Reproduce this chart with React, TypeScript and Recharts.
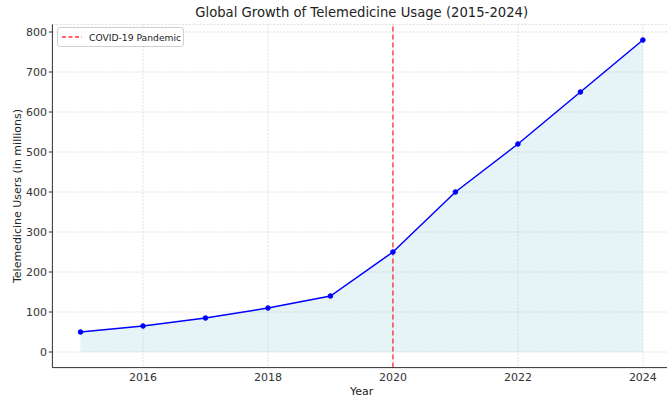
import React from 'react'
import { ComposedChart, Area, Line, XAxis, YAxis, CartesianGrid, ReferenceLine } from 'recharts'

// Telemedicine users (millions) per year
const years = [2015, 2016, 2017, 2018, 2019, 2020, 2021, 2022, 2023, 2024]
const users = [50, 65, 85, 110, 140, 250, 400, 520, 650, 780]
const xTicks = [2016, 2018, 2020, 2022, 2024]
const yTicks = [0, 100, 200, 300, 400, 500, 600, 700, 800]
const covidYear = 2020

const FONT = '"DejaVu Sans", sans-serif'

export default function App() {
    const data = React.useMemo(() => years.map((year, i) => ({ year, users: users[i] })), [])

    return (
        <div style={{ position: 'absolute', left: 0, top: 0, width: 667, height: 401, overflow: 'hidden', background: '#fff', fontFamily: FONT }}>
            <div style={{ position: 'absolute', left: 361.7, top: 5, transform: 'translateX(-50%)', whiteSpace: 'nowrap', fontSize: 13.2, color: '#222' }}>
                Global Growth of Telemedicine Usage (2015-2024)
            </div>
            <ComposedChart width={672} height={401} data={data} margin={{ top: 24.4, right: 1, left: 0, bottom: 0 }}>
                <CartesianGrid stroke="#d6d6d6" strokeWidth={0.8} strokeDasharray="2 1.5" vertical horizontal />
                <XAxis
                    dataKey="year"
                    type="number"
                    domain={[2014.55, 2024.45]}
                    ticks={xTicks}
                    height={33.4}
                    axisLine={{ stroke: '#333' }}
                    tickLine={false}
                    tickSize={3.5}
                    tickMargin={2}
                    tick={{ fill: '#333', fontSize: 11, fontFamily: FONT }}
                    label={{ value: 'Year', position: 'insideBottom', offset: 6, fill: '#222', fontSize: 11, fontFamily: FONT }}
                />
                <YAxis
                    type="number"
                    domain={[-39, 819]}
                    ticks={yTicks}
                    width={52.4}
                    axisLine={{ stroke: '#333' }}
                    tickLine={{ stroke: '#333' }}
                    tickSize={3.5}
                    tick={{ fill: '#333', fontSize: 11, fontFamily: FONT }}
                    label={{ value: 'Telemedicine Users (in millions)', angle: -90, position: 'insideLeft', offset: 17, fill: '#222', fontSize: 11, fontFamily: FONT, style: { textAnchor: 'middle' } }}
                />
                <Area dataKey="users" baseValue={0} fill="#add8e6" fillOpacity={0.3} stroke="none" isAnimationActive={false} />
                <Line dataKey="users" stroke="#0000ff" strokeWidth={1.5} dot={{ r: 2.3, fill: '#0000ff', stroke: '#0000ff', strokeWidth: 1 }} isAnimationActive={false} />
                <ReferenceLine x={covidYear} stroke="#ff0000" strokeOpacity={0.8} strokeWidth={1.3} strokeDasharray="5 3" />
            </ComposedChart>
            <div style={{ position: 'absolute', left: 57, top: 27, width: 127, height: 20, border: '1px solid #d0d0d0', borderRadius: 3, background: 'rgba(255,255,255,0.8)', boxSizing: 'border-box', display: 'flex', alignItems: 'center' }}>
                <svg width={28} height={10} style={{ marginLeft: 3 }}>
                    <line x1={1} y1={5} x2={21} y2={5} stroke="#ff0000" strokeOpacity={0.8} strokeWidth={1.3} strokeDasharray="4 2.5" />
                </svg>
                <span style={{ fontSize: 9.2, color: '#222' }}>COVID-19 Pandemic</span>
            </div>
        </div>
    )
}
